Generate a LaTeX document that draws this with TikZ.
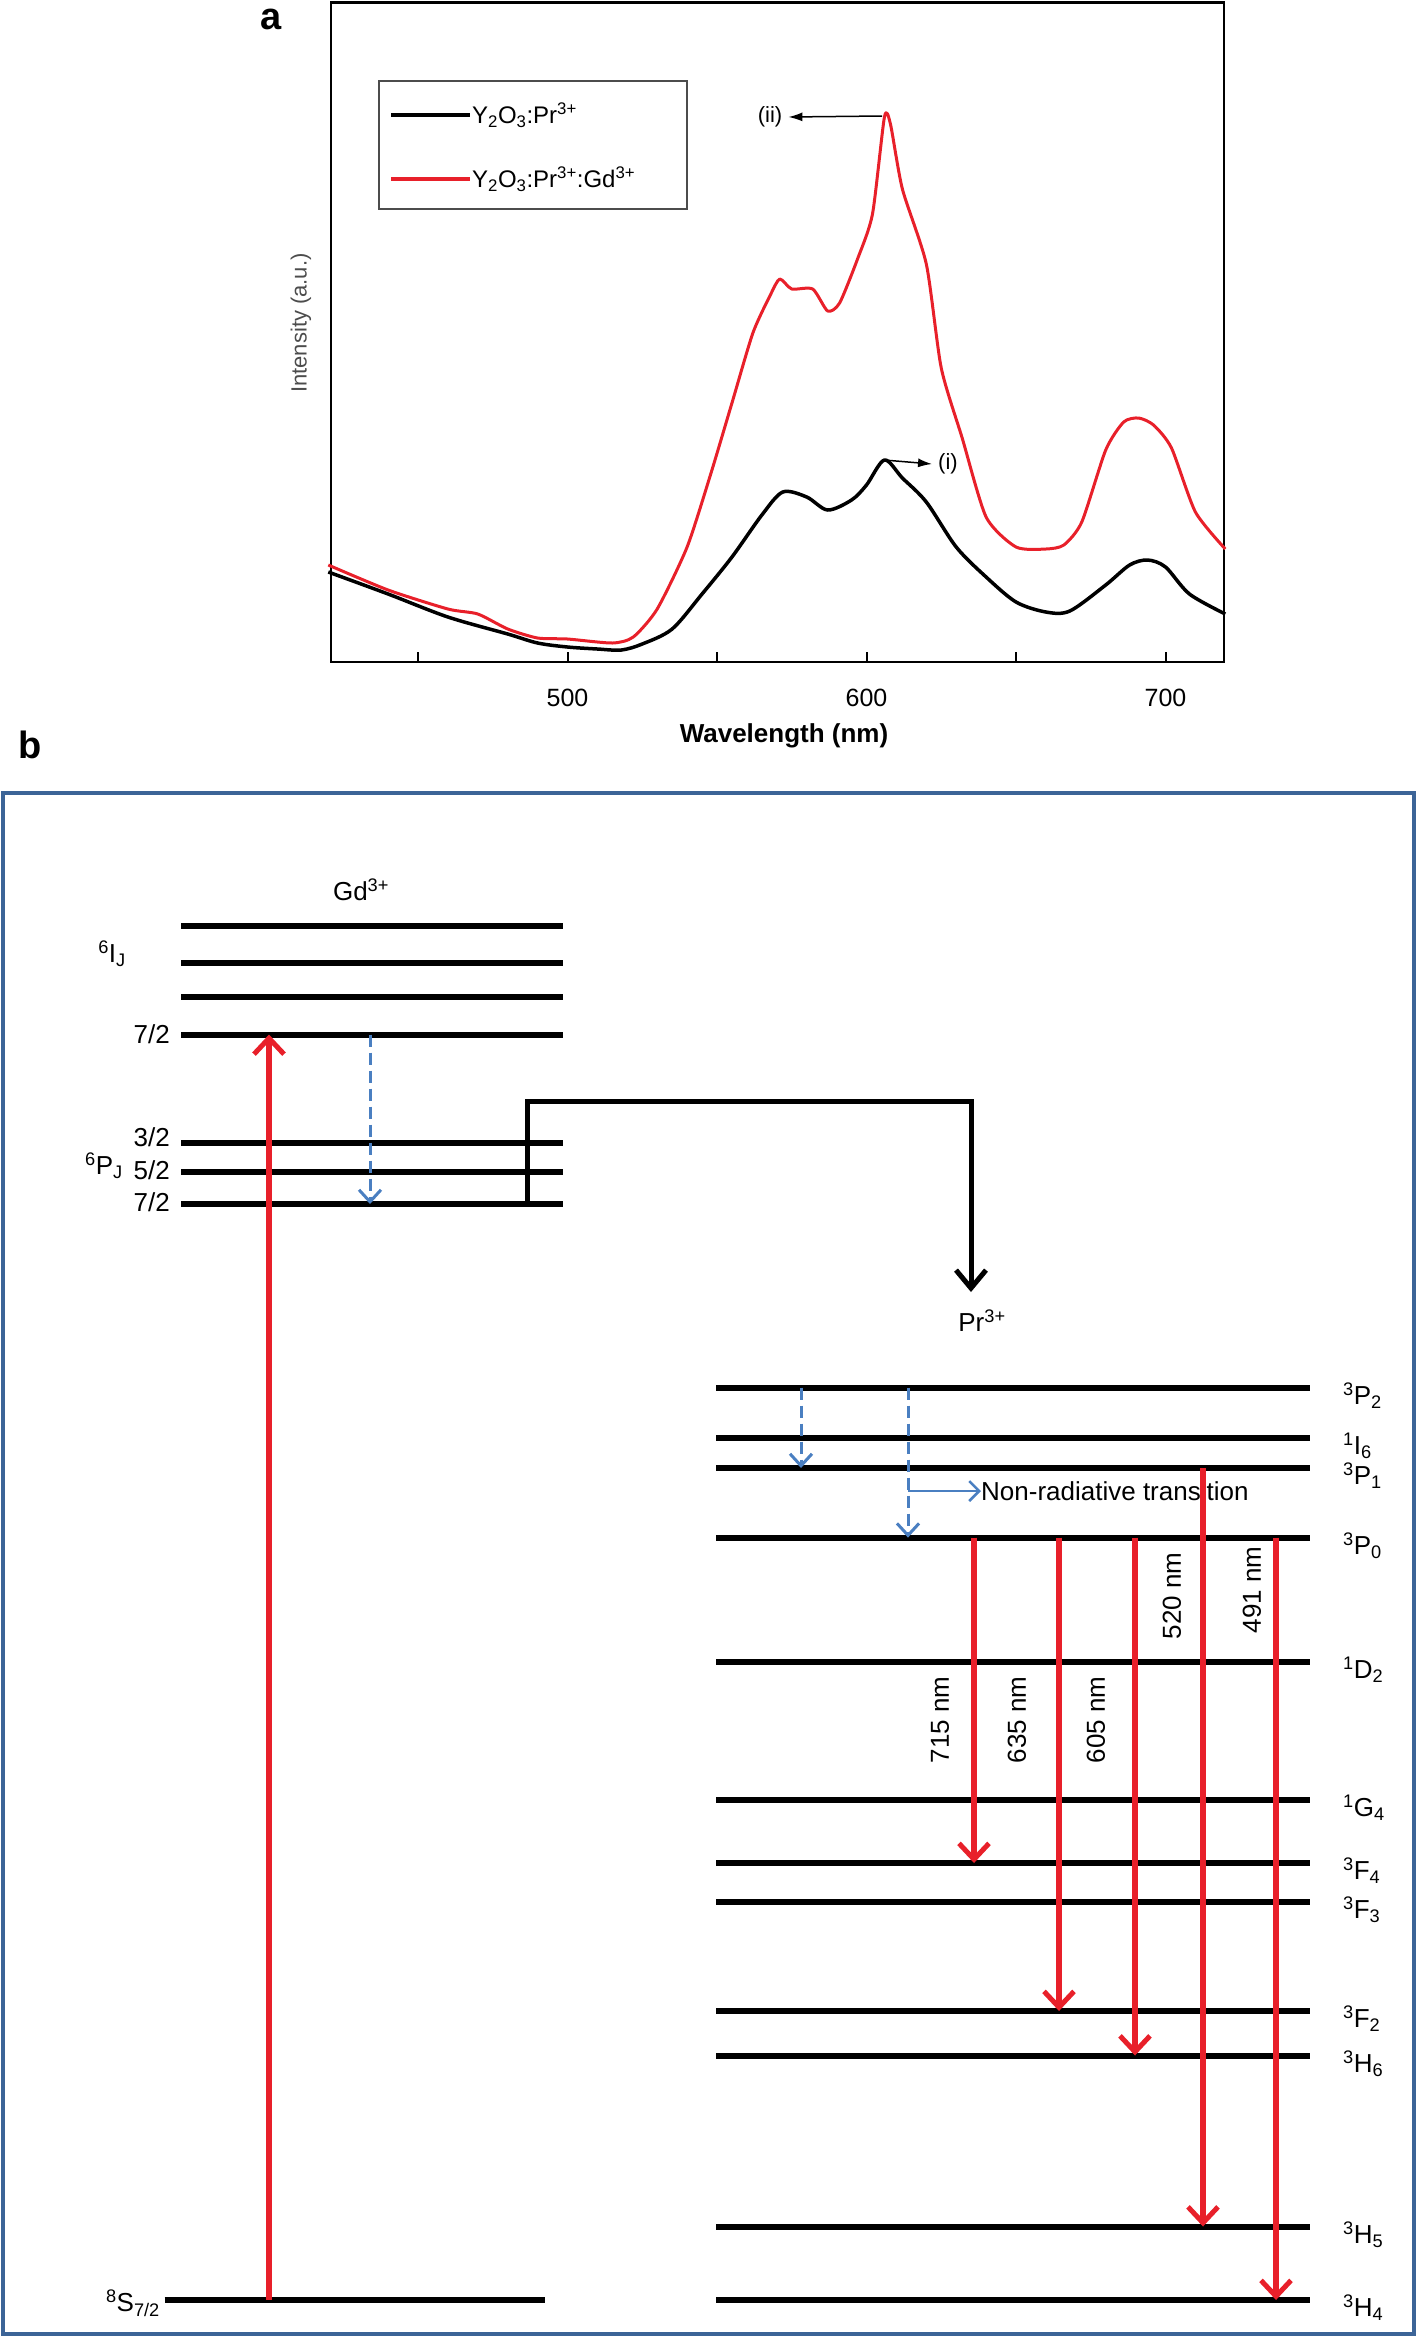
\documentclass[tikz,border=0pt]{standalone}
\usepackage{fontspec}
\setmainfont{Liberation Sans}
\usetikzlibrary{arrows.meta}
\definecolor{myred}{HTML}{E8202A}
\definecolor{myblue}{HTML}{4A7FC1}
\definecolor{boxblue}{HTML}{3C6497}
\tikzset{
  lvl/.style={line width=6pt,black},
  redarr/.style={line width=5.5pt,myred,-{Straight Barb[length=16pt,width=30pt,line width=5pt]}},
  bluearr/.style={line width=3pt,myblue,dash pattern=on 12pt off 6pt,-{Straight Barb[length=12pt,width=22pt,line width=3pt]}},
  lab/.style={font=\fontsize{26}{30}\selectfont,inner sep=0pt},
  wl/.style={font=\fontsize{26}{30}\selectfont,inner sep=0pt,rotate=90},
}
\begin{document}
\begin{tikzpicture}[x=1pt,y=-1pt]
\useasboundingbox (0,0) rectangle (1417,2338);
% ---------- panel a ----------
\node[font=\fontsize{38}{42}\selectfont\bfseries,inner sep=0pt] (la) at (271,19) {a};
\draw[line width=2.5pt] (331,2.5) rectangle (1224,662);
\foreach \w in {450,500,550,600,650,700}{
  \draw[line width=2pt] ({567.5+(\w-500)*2.99},662) -- ++(0,-10);}
\foreach \w in {500,600,700}{
  \node[lab,font=\fontsize{25}{30}\selectfont] at ({567.5+(\w-500)*2.99},698) {\w};}
\node[lab,font=\fontsize{26}{30}\selectfont\bfseries] (xl) at (784,736) {Wavelength (nm)};
\node[lab,rotate=90,text=black!70,font=\fontsize{22}{26}\selectfont] (yl) at (301,323) {Intensity (a.u.)};
\node[draw=black!70,line width=1.5pt,minimum width=308pt,minimum height=128pt,inner sep=0pt] (leg) at (533,145) {};
\draw[line width=4pt] (391,115) -- (470,115);
\draw[line width=4pt,myred] (391,179) -- (470,179);
\node[lab,anchor=west,font=\fontsize{24}{28}\selectfont] (l1) at (472,115) {Y\textsubscript{2}O\textsubscript{3}:Pr\textsuperscript{3+}};
\node[lab,anchor=west,font=\fontsize{24}{28}\selectfont] (l2) at (472,179) {Y\textsubscript{2}O\textsubscript{3}:Pr\textsuperscript{3+}:Gd\textsuperscript{3+}};
\begin{scope}[xshift=-927.5pt,x=2.99pt]
\draw[line width=3.5pt,black,line join=round] plot[smooth,tension=0.5] coordinates {
(420,572)(440,594)(460,617)(480,634)(490,643)(500,647)(510,649)(518,650)(525,644)(535,629)(545,594)(555,557)(565,515)(572,492)(580,497)(587,510)(595,500)(600,485)(606,460)(612,478)(620,502)(630,547)(640,577)(650,602)(660,612)(668,611)(680,585)(688,565)(694,560)(700,567)(708,594)(720,614)};
\draw[line width=3pt,myred,line join=round] plot[smooth,tension=0.4] coordinates {
(420,565)(440,590)(460,609)(470,614)(480,629)(490,638)(500,639)(515,643)(522,637)(530,609)(540,547)(548,473)(555,403)(562,333)(568,294)(571,279)(575,289)(582,289)(587,311)(591,303)(597,259)(602,214)(606,117)(608,124)(612,189)(620,264)(625,368)(632,438)(640,517)(650,547)(660,549)(666,545)(672,522)(680,450)(686,422)(691,418)(696,425)(702,448)(710,512)(720,549)};
\end{scope}
\node[lab,font=\fontsize{22}{26}\selectfont] (tii) at (770,117) {(ii)};
\node[lab,font=\fontsize{22}{26}\selectfont] (ti) at (948,464) {(i)};
\coordinate (pii) at (882,116);
\coordinate (pi) at (884,460);
\draw[line width=1.5pt,-{Latex[length=14pt,width=9pt]}] (pii) -- ([xshift=6pt]tii.east);
\draw[line width=1.5pt,-{Latex[length=14pt,width=9pt]}] (pi) -- ([xshift=-6pt]ti.west);
% ---------- panel b ----------
\node[font=\fontsize{38}{42}\selectfont\bfseries,inner sep=0pt] (lb) at (30,745) {b};
\draw[line width=4pt,boxblue] (3,793) rectangle (1414,2334);
\node[lab] (gd) at (361,890) {Gd\textsuperscript{3+}};
\foreach \n/\y in {g1/926,g2/963,g3/997,g4/1034.5,g5/1143,g6/1172,g7/1204}{
  \draw[lvl] (181,\y) -- (563,\y);
  \coordinate (\n) at (563,\y);}
\node[lab] (ij) at (112,954) {\textsuperscript{6}I\textsubscript{J}};
\node[lab,anchor=east] at (170,1034.5) {7/2};
\node[lab,anchor=east] at (170,1137) {3/2};
\node[lab,anchor=east] at (170,1170) {5/2};
\node[lab,anchor=east] at (170,1202) {7/2};
\node[lab] (pj) at (104,1166) {\textsuperscript{6}P\textsubscript{J}};
\draw[lvl] (164.5,2300) -- (545,2300);
\node[lab,anchor=east] (s72) at (160,2303) {\textsuperscript{8}S\textsubscript{7/2}};
\coordinate (ga) at (269,2300); \coordinate (gb) at (269,1034.5);
\draw[redarr] (ga) -- (gb);
\coordinate (gc) at (370,1034.5); \coordinate (gd2) at (370,1204);
\draw[bluearr] (gc) -- (gd2);
% transfer
\coordinate (t0) at (527,1204); \coordinate (t1) at (527,1101); \coordinate (t2) at (971,1101); \coordinate (t3) at (971,1292);
\draw[line width=5pt,line join=miter,-{Straight Barb[length=18pt,width=30pt,line width=5pt]}] (t0) -- (t1) -- (t2) -- (t3);
\node[lab] (pr) at (982,1321) {Pr\textsuperscript{3+}};
% Pr levels
\foreach \n/\y/\t in {p2/1387.5/\textsuperscript{3}P\textsubscript{2},i6/1437.6/\textsuperscript{1}I\textsubscript{6},p1/1468/\textsuperscript{3}P\textsubscript{1},p0/1537.6/\textsuperscript{3}P\textsubscript{0},d2/1662/\textsuperscript{1}D\textsubscript{2},g4b/1800/\textsuperscript{1}G\textsubscript{4},f4/1863/\textsuperscript{3}F\textsubscript{4},f3/1902/\textsuperscript{3}F\textsubscript{3},f2/2011/\textsuperscript{3}F\textsubscript{2},h6/2055.5/\textsuperscript{3}H\textsubscript{6},h5/2226.5/\textsuperscript{3}H\textsubscript{5},h4/2300/\textsuperscript{3}H\textsubscript{4}}{
  \draw[lvl] (716,\y) -- (1310,\y);
  \node[lab,anchor=west] (\n) at (1343,\y+8) {\t};}
% non-radiative
\coordinate (n1a) at (801,1387.5); \coordinate (n1b) at (801,1468);
\draw[bluearr] (n1a) -- (n1b);
\coordinate (n2a) at (908,1387.5); \coordinate (n2b) at (908,1537.6);
\draw[bluearr] (n2a) -- (n2b);
\coordinate (nb) at (908,1491);
\node[lab,anchor=west] (nrt) at (981,1491) {Non-radiative transition};
\draw[line width=2.5pt,myblue,-{Straight Barb[length=10pt,width=20pt,line width=2.5pt]}] (nb) -- (nrt.west);
% emissions
\foreach \x/\ya/\yb in {974/1537.6/1863,1059/1537.6/2011,1135/1537.6/2055.5,1203/1468/2226.5,1276/1537.6/2300}{
  \draw[redarr] (\x,\ya) -- (\x,\yb);}
\node[wl] at (940,1720) {715 nm};
\node[wl] at (1017,1720) {635 nm};
\node[wl] at (1096,1720) {605 nm};
\node[wl] at (1172,1596) {520 nm};
\node[wl] at (1252,1590) {491 nm};
\end{tikzpicture}
\end{document}
